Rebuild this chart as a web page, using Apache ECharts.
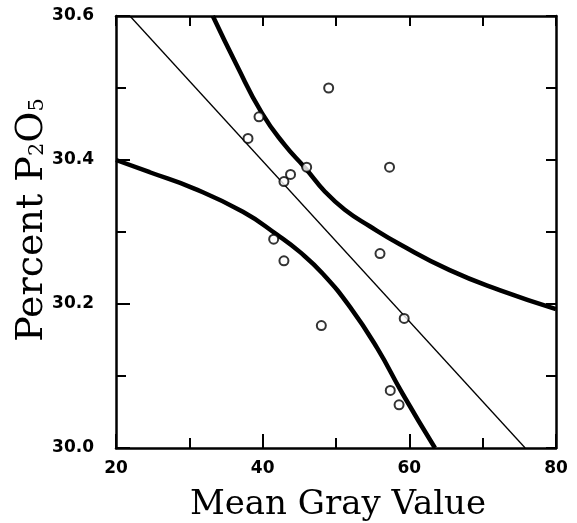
<!DOCTYPE html>
<html>
<head>
<meta charset="utf-8">
<script src="https://cdn.jsdelivr.net/npm/echarts@6/dist/echarts.min.js"></script>
<style>
  html, body { margin: 0; padding: 0; background: #fff; }
  #chart { width: 577px; height: 523px; }
</style>
</head>
<body>
<div id="chart"></div>
<script>
// Axis ticks
const xTicks = [20, 40, 60, 80];
const yTicks = [30.0, 30.2, 30.4, 30.6];

// Samples: mean gray value vs percent P2O5
const grayValue = [38.0, 39.5, 49.0, 46.0, 43.8, 42.9, 57.3, 41.5, 42.9, 56.0, 48.0, 59.3, 57.4, 58.6];
const pctP2O5   = [30.43, 30.46, 30.50, 30.39, 30.38, 30.37, 30.39, 30.29, 30.26, 30.27, 30.17, 30.18, 30.08, 30.06];

// Least-squares fit line
const fitX = [21.9, 75.8];
const fitY = [30.60, 30.00];

// Upper confidence band
const upperX = [33.2, 36.4, 39.9, 43.0, 45.8, 48.5, 51.2, 54.6, 58.7, 65.5, 72.4, 80.0];
const upperY = [30.600, 30.533, 30.465, 30.421, 30.389, 30.356, 30.331, 30.308, 30.283, 30.247, 30.219, 30.193];

// Lower confidence band
const lowerX = [20.0, 24.6, 30.5, 37.3, 42.0, 45.1, 48.2, 51.9, 55.6, 59.1, 63.5];
const lowerY = [30.400, 30.383, 30.361, 30.328, 30.296, 30.272, 30.242, 30.196, 30.139, 30.075, 30.000];

const pairs = (xs, ys) => xs.map((x, i) => [x, ys[i]]);

const xMin = xTicks[0], xMax = xTicks[xTicks.length - 1];
const xStep = xTicks[1] - xTicks[0];
const yMin = yTicks[0], yMax = yTicks[yTicks.length - 1];
const yStep = Math.round((yTicks[1] - yTicks[0]) * 10) / 10;

const ink = '#000';
const serif = '"DejaVu Serif"';
const tickFont = { fontFamily: 'DejaVu Sans', fontWeight: 'bold', fontSize: 17, color: ink };

function axisBase(extra) {
  return Object.assign({
    type: 'value',
    axisLine: { show: true, onZero: false, lineStyle: { color: ink, width: 2.5 } },
    splitLine: { show: false },
    minorSplitLine: { show: false }
  }, extra);
}

// Vertical axis title with subscripts, laid out piece by piece from bottom to top
const measureCtx = document.createElement('canvas').getContext('2d');
function textWidth(str, size) {
  measureCtx.font = size + 'px ' + serif;
  return measureCtx.measureText(str).width;
}
const yTitlePieces = [
  { text: 'Percent P', size: 38, x: 32 },
  { text: '2', size: 21, x: 38 },
  { text: 'O', size: 38, x: 32 },
  { text: '5', size: 21, x: 38 }
];
const yTitleCenter = 220;
const yTitleLen = yTitlePieces.reduce((s, p) => s + textWidth(p.text, p.size), 0);
let cursor = yTitleCenter + yTitleLen / 2;
const yTitleGraphics = yTitlePieces.map(p => {
  const g = {
    type: 'text', x: p.x, y: cursor, rotation: Math.PI / 2,
    style: { text: p.text, font: p.size + 'px ' + serif, fill: ink, align: 'left', verticalAlign: 'middle' }
  };
  cursor -= textWidth(p.text, p.size);
  return g;
});

const chart = echarts.init(document.getElementById('chart'), null, { renderer: 'canvas' });

chart.setOption({
  backgroundColor: '#fff',
  animation: false,
  grid: { left: 116, right: 21, top: 16, bottom: 75 },
  xAxis: [
    axisBase({
      position: 'bottom', min: xMin, max: xMax, interval: xStep,
      axisTick: { show: true, inside: true, length: 14, lineStyle: { color: ink, width: 2 } },
      minorTick: { show: true, splitNumber: 2, length: 10, lineStyle: { color: ink, width: 2 } },
      axisLabel: Object.assign({ margin: 12 }, tickFont)
    }),
    axisBase({
      position: 'top', min: xMin, max: xMax, interval: xStep,
      axisTick: { show: true, inside: true, length: 10, lineStyle: { color: ink, width: 2 } },
      minorTick: { show: true, splitNumber: 2, length: 10, lineStyle: { color: ink, width: 2 } },
      axisLabel: { show: false }
    })
  ],
  yAxis: [
    axisBase({
      position: 'left', min: yMin, max: yMax, interval: yStep,
      axisTick: { show: true, inside: true, length: 14, lineStyle: { color: ink, width: 2 } },
      minorTick: { show: true, splitNumber: 2, length: 10, lineStyle: { color: ink, width: 2 } },
      axisLabel: Object.assign({ margin: 22, formatter: v => v.toFixed(1) }, tickFont)
    }),
    axisBase({
      position: 'right', min: yMin, max: yMax, interval: yStep,
      axisTick: { show: true, inside: true, length: 10, lineStyle: { color: ink, width: 2 } },
      minorTick: { show: true, splitNumber: 2, length: 10, lineStyle: { color: ink, width: 2 } },
      axisLabel: { show: false }
    })
  ],
  series: [
    {
      type: 'line', name: 'fit', data: pairs(fitX, fitY),
      showSymbol: false, lineStyle: { color: ink, width: 1.3 }, z: 2
    },
    {
      type: 'line', name: 'upper', data: pairs(upperX, upperY),
      smooth: 0.5, showSymbol: false,
      lineStyle: { color: ink, width: 4.5 }, z: 3
    },
    {
      type: 'line', name: 'lower', data: pairs(lowerX, lowerY),
      smooth: 0.5, showSymbol: false,
      lineStyle: { color: ink, width: 4.5 }, z: 3
    },
    {
      type: 'scatter', name: 'samples', data: pairs(grayValue, pctP2O5),
      symbol: 'circle', symbolSize: 9,
      itemStyle: { color: '#fff', borderColor: ink, borderWidth: 2 }, z: 4
    }
  ],
  graphic: [
    {
      type: 'text', x: 338, y: 505,
      style: {
        text: 'Mean Gray Value',
        font: '34px ' + serif,
        fill: ink, align: 'center', verticalAlign: 'middle'
      }
    }
  ].concat(yTitleGraphics)
});
</script>
</body>
</html>
